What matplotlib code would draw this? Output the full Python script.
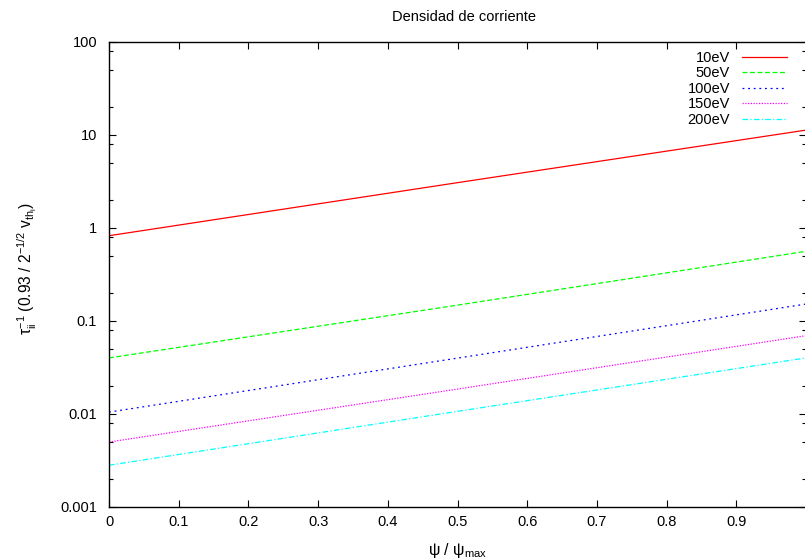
import matplotlib
matplotlib.use("Agg")
import matplotlib.pyplot as plt
from matplotlib.ticker import FixedLocator, LogLocator, NullFormatter, FuncFormatter

plt.rcParams['font.family'] = ['Liberation Sans', 'DejaVu Sans']
plt.rcParams['mathtext.fontset'] = 'custom'
plt.rcParams['mathtext.rm'] = 'Liberation Sans'
plt.rcParams['mathtext.it'] = 'Liberation Sans'
plt.rcParams['mathtext.bf'] = 'Liberation Sans:bold'

# datos (psi / psi_max)
psi = [0.0, 0.5, 1.0]
tau_10eV = [0.82, 3.05, 11.2]
tau_50eV = [0.0398, 0.147, 0.557]
tau_100eV = [0.0104, 0.0396, 0.151]
tau_150eV = [0.00496, 0.0184, 0.069]
tau_200eV = [0.00279, 0.0106, 0.0398]

labels = ['10eV', '50eV', '100eV', '150eV', '200eV']
x_ticks = [0, 0.1, 0.2, 0.3, 0.4, 0.5, 0.6, 0.7, 0.8, 0.9]
y_ticks = [0.001, 0.01, 0.1, 1, 10, 100]

W, H = 805, 559
fig = plt.figure(figsize=(W / 100, H / 100), dpi=100)
left, right, top, bottom = 109, 806, 41.7, 506.7
ax = fig.add_axes([left / W, 1 - bottom / H, (right - left) / W, (bottom - top) / H])

ax.plot(psi, tau_10eV, color='#ff0000', lw=0.9, label=labels[0])
ax.plot(psi, tau_50eV, color='#00ff00', lw=0.9, dashes=(4, 2), label=labels[1])
ax.plot(psi, tau_100eV, color='#0000ff', lw=0.9, dashes=(1.5, 3), label=labels[2])
ax.plot(psi, tau_150eV, color='#ff00ff', lw=0.9, dashes=(1, 1.2), label=labels[3])
ax.plot(psi, tau_200eV, color='#00ffff', lw=0.9, dashes=(4.5, 1.8, 1, 1.8), label=labels[4])

ax.set_yscale('log')
ax.set_xlim(0, 1)
ax.set_ylim(0.001, 100)
ax.xaxis.set_major_locator(FixedLocator(x_ticks))
ax.xaxis.set_major_formatter(FuncFormatter(lambda v, p: '%g' % v))
ax.yaxis.set_major_locator(FixedLocator(y_ticks))
ax.yaxis.set_major_formatter(FuncFormatter(lambda v, p: '%g' % v))
ax.yaxis.set_minor_locator(LogLocator(base=10, subs=[2, 5, 8]))
ax.yaxis.set_minor_formatter(NullFormatter())

ax.tick_params(which='both', direction='in', top=True, right=True,
               labelsize=10.5, colors='black')
ax.tick_params(axis='x', pad=6)
ax.tick_params(axis='y', pad=8.5)
ax.tick_params(which='major', length=5, width=0.8)
ax.tick_params(which='minor', length=2.7, width=0.8)
for s in ax.spines.values():
    s.set_linewidth(1.0)

ax.set_ylabel(r'$\tau_{ii}^{-1}$ (0.93 / 2$^{-1/2}$ v$_{th_i}$)', fontsize=11.2)
ax.yaxis.set_label_coords(-0.1, 0.512)
ax.set_xlabel(r'ψ / ψ$_{max}$', fontsize=11.5)
ax.xaxis.set_label_coords(0.5, -0.073)

fig.text(464 / W, 1 - 17 / H, 'Densidad de corriente', ha='center', va='center', fontsize=10.5)

leg = ax.legend(loc='upper right', bbox_to_anchor=(787 / W, 1 - 51 / H),
                bbox_transform=fig.transFigure, markerfirst=False, frameon=False,
                fontsize=10.5, handlelength=3.1, handletextpad=0.8,
                labelspacing=0.1, borderpad=0, borderaxespad=0)

fig.savefig('out.png', dpi=100)
